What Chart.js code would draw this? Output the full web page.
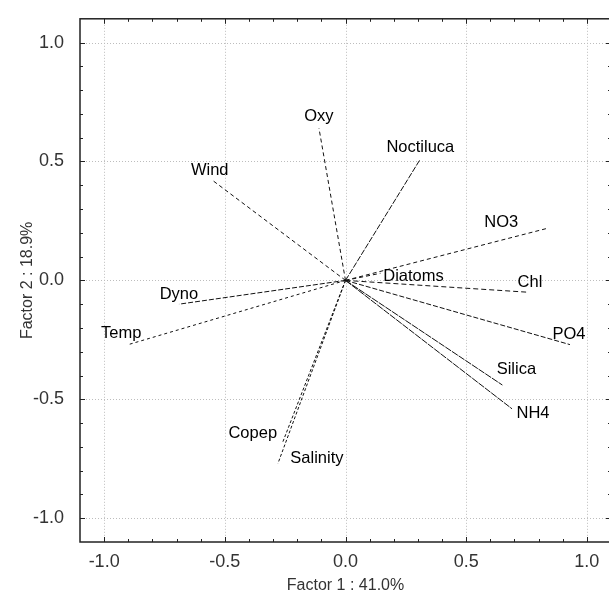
<!DOCTYPE html>
<html>
<head>
<meta charset="utf-8">
<script src="https://cdn.jsdelivr.net/npm/chart.js@4.4.1/dist/chart.umd.min.js"></script>
<style>
  html, body { margin: 0; padding: 0; background: #fff; overflow: hidden; }
  canvas { display: block; }
</style>
</head>
<body>
<canvas id="pcaChart" width="612" height="599"></canvas>
<script>
// loadings
const variables = ['Oxy', 'Noctiluca', 'Wind', 'NO3', 'Diatoms', 'Chl', 'Dyno', 'Temp', 'PO4', 'Silica', 'NH4', 'Copep', 'Salinity'];
const factor1 = [-0.11, 0.31, -0.55, 0.84, 0.145, 0.76, -0.69, -0.90, 0.93, 0.65, 0.69, -0.26, -0.28];
const factor2 = [0.64, 0.51, 0.42, 0.22, 0.03, -0.05, -0.10, -0.27, -0.27, -0.44, -0.54, -0.68, -0.77];
const tickValues = [-1.0, -0.5, 0.0, 0.5, 1.0];

// label placement (pixels from the end of each vector)
const labelOffsets = [[0, -12], [0, -12], [-3, -10], [-47, -6], [33, 3], [1, -10], [0, -10], [-7, -11], [-1, -10], [14, -16], [21, 5], [-30, -9], [39, -5]];
const dashes = [[4, 3], [6, 1.5], [4, 3], [4, 3], [4, 3], [5, 3], [5, 2], [3, 3], [5, 2], [7, 1], [7, 1], [3, 2], [3, 2]];

const FONT = '"Liberation Sans", Arial, sans-serif';

const datasets = variables.map(function (name, i) {
    return {
        label: name,
        data: [{ x: 0, y: 0 }, { x: factor1[i], y: factor2[i] }],
        showLine: true,
        borderColor: '#111',
        borderWidth: 1,
        borderDash: dashes[i],
        pointRadius: 0,
        fill: false
    };
});

// dotted grid, frame and inward minor ticks
const framePlugin = {
    id: 'frame',
    beforeDatasetsDraw: function (chart) {
        const ctx = chart.ctx;
        const a = chart.chartArea;
        const xs = chart.scales.x, ys = chart.scales.y;
        ctx.save();
        ctx.strokeStyle = '#bdbdbd';
        ctx.lineWidth = 1;
        ctx.setLineDash([1, 2]);
        tickValues.forEach(function (v) {
            const px = Math.round(xs.getPixelForValue(v)) + 0.5;
            const py = Math.round(ys.getPixelForValue(v)) + 0.5;
            ctx.beginPath(); ctx.moveTo(px, a.top); ctx.lineTo(px, a.bottom); ctx.stroke();
            ctx.beginPath(); ctx.moveTo(a.left, py); ctx.lineTo(a.right, py); ctx.stroke();
        });
        ctx.setLineDash([]);
        ctx.strokeStyle = '#222';
        ctx.lineWidth = 1;
        for (let k = -10; k <= 10; k++) {
            const v = k / 10;
            const len = (k % 5 === 0) ? 5 : 3;
            const px = Math.round(xs.getPixelForValue(v)) + 0.5;
            const py = Math.round(ys.getPixelForValue(v)) + 0.5;
            ctx.beginPath();
            ctx.moveTo(px, a.bottom); ctx.lineTo(px, a.bottom - len);
            ctx.moveTo(px, a.top); ctx.lineTo(px, a.top + len);
            ctx.moveTo(a.left, py); ctx.lineTo(a.left + len, py);
            ctx.moveTo(a.right, py); ctx.lineTo(a.right - len, py);
            ctx.stroke();
        }
        ctx.lineWidth = 1.5;
        ctx.strokeRect(a.left, a.top, a.right - a.left, a.bottom - a.top);
        ctx.restore();
    },
    afterDatasetsDraw: function (chart) {
        const ctx = chart.ctx;
        const xs = chart.scales.x, ys = chart.scales.y;
        ctx.save();
        ctx.font = '16.5px ' + FONT;
        ctx.fillStyle = '#000';
        ctx.textAlign = 'center';
        ctx.textBaseline = 'middle';
        variables.forEach(function (name, i) {
            const px = xs.getPixelForValue(factor1[i]) + labelOffsets[i][0];
            const py = ys.getPixelForValue(factor2[i]) + labelOffsets[i][1];
            ctx.fillText(name, px, py);
        });
        ctx.restore();
    }
};

const ctx = document.getElementById('pcaChart').getContext('2d');
const pcaChart = new Chart(ctx, {
    type: 'scatter',
    data: { datasets: datasets },
    options: {
        responsive: false,
        animation: false,
        layout: { padding: { top: 13, right: 1, left: 0, bottom: 0 } },
        plugins: {
            legend: { display: false },
            tooltip: { enabled: false }
        },
        scales: {
            x: {
                type: 'linear',
                min: -1.1,
                max: 1.1,
                afterBuildTicks: function (scale) {
                    scale.ticks = tickValues.map(function (v) { return { value: v }; });
                },
                afterFit: function (scale) { scale.height = 57; },
                grid: { display: false },
                border: { display: false },
                ticks: {
                    padding: 1,
                    color: '#333',
                    font: { family: FONT, size: 18 },
                    callback: function (value) { return value.toFixed(1); }
                },
                title: {
                    display: true,
                    text: 'Factor 1 : 41.0%',
                    color: '#333',
                    font: { family: FONT, size: 16 },
                    padding: { top: 0, bottom: 4 }
                }
            },
            y: {
                type: 'linear',
                min: -1.1,
                max: 1.1,
                afterBuildTicks: function (scale) {
                    scale.ticks = tickValues.map(function (v) { return { value: v }; });
                },
                afterFit: function (scale) { scale.width = 80; },
                grid: { display: false },
                border: { display: false },
                ticks: {
                    padding: 8,
                    color: '#333',
                    font: { family: FONT, size: 18 },
                    callback: function (value) { return value.toFixed(1); }
                },
                title: {
                    display: true,
                    text: 'Factor 2 : 18.9%',
                    color: '#333',
                    font: { family: FONT, size: 16 },
                    padding: { top: 18, bottom: 0 }
                }
            }
        }
    },
    plugins: [framePlugin]
});
</script>
</body>
</html>
